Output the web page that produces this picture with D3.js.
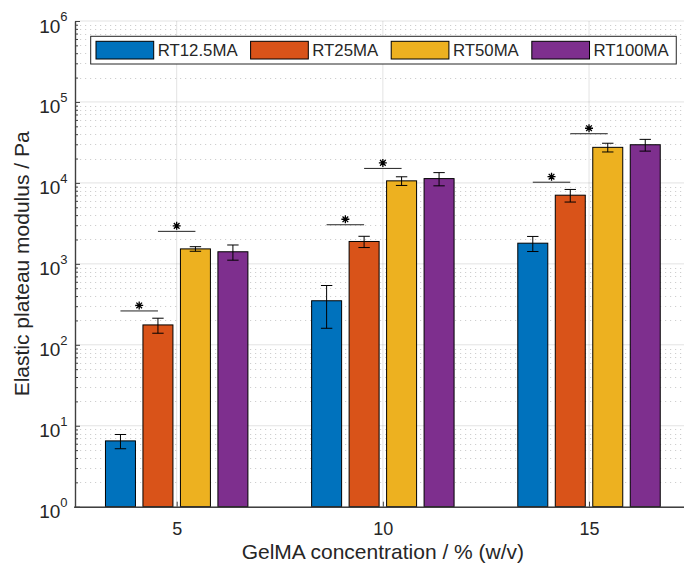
<!DOCTYPE html>
<html lang="en">
<head>
<meta charset="utf-8">
<style type="text/css">
body { margin: 0; background: #fff; }
svg text { font-family: "Liberation Sans", Arial, sans-serif; fill: #262626; }
.axis path, .axis line { stroke: #404040; }
</style>
</head>
<body>
<svg width="684" height="565"></svg>
<script src="https://d3js.org/d3.v7.min.js"></script>
<script type="text/javascript">
// data
var concentrations = [5, 10, 15];
var series = ["RT12.5MA", "RT25MA", "RT50MA", "RT100MA"];
var colors = ["#0072BD", "#D95319", "#EDB120", "#7E2F8E"];

var rt12_5 = [6.5, 350, 1800];
var rt25 = [176, 1890, 7050];
var rt50 = [1530, 10600, 27500];
var rt100 = [1410, 11300, 29600];

var rt12_5Err = [1.3, 190, 380];
var rt25Err = [37, 300, 1250];
var rt50Err = [100, 1300, 3400];
var rt100Err = [300, 2100, 4900];

// significance bars: first pair (12.5 vs 25), second pair (25 vs 50)
var sigLow = [262, 3040, 10200];
var sigHigh = [2520, 15100, 40500];

var yDecades = [1, 10, 100, 1e3, 1e4, 1e5, 1e6];

var means = [rt12_5, rt25, rt50, rt100];
var errs = [rt12_5Err, rt25Err, rt50Err, rt100Err];

var svg = d3.select("svg");

var x = d3.scaleLinear().domain([2.5, 17.5]).range([73.6, 692.1]);
var y = d3.scaleLog().domain([1, 1e6]).range([506.7, 21]);

var groupW = (x(10) - x(5)) * 4 / 5.5;
var inner = d3.scaleBand().domain(d3.range(series.length))
    .range([-groupW / 2, groupW / 2]).paddingInner(0.2).paddingOuter(0.1);

var yMinor = [];
for (var e = 0; e < 6; e++) {
    for (var k = 2; k <= 9; k++) yMinor.push(k * Math.pow(10, e));
}

var plotL = 75, plotR = x.range()[1];
var plotT = y.range()[1], plotB = y.range()[0];

// grid
var grid = svg.append("g");
grid.selectAll(".minor").data(yMinor).enter().append("line")
    .attr("x1", plotL).attr("x2", plotR)
    .attr("y1", function (d) { return Math.round(y(d)) + 0.5; })
    .attr("y2", function (d) { return Math.round(y(d)) + 0.5; })
    .attr("stroke", "#262626").attr("stroke-opacity", 0.22)
    .attr("stroke-dasharray", "1.2 3.8");
grid.selectAll(".major").data(yDecades).enter().append("line")
    .attr("x1", plotL).attr("x2", plotR)
    .attr("y1", function (d) { return y(d); })
    .attr("y2", function (d) { return y(d); })
    .attr("stroke", "#262626").attr("stroke-opacity", 0.13);
grid.selectAll(".vmajor").data(concentrations).enter().append("line")
    .attr("x1", function (d) { return x(d); }).attr("x2", function (d) { return x(d); })
    .attr("y1", plotT).attr("y2", plotB)
    .attr("stroke", "#262626").attr("stroke-opacity", 0.13);

// bars
var rows = [];
concentrations.forEach(function (c, gi) {
    series.forEach(function (s, si) {
        rows.push({c: c, g: gi, s: si, v: means[si][gi], e: errs[si][gi]});
    });
});

var cx = function (d) { return x(d.c) + inner(d.s) + inner.bandwidth() / 2; };

svg.append("g").selectAll("rect").data(rows).enter().append("rect")
    .attr("x", function (d) { return x(d.c) + inner(d.s); })
    .attr("width", inner.bandwidth())
    .attr("y", function (d) { return y(d.v); })
    .attr("height", function (d) { return plotB - y(d.v); })
    .attr("fill", function (d) { return colors[d.s]; })
    .attr("stroke", "#000").attr("stroke-width", 1);

// error bars
var eb = svg.append("g").attr("stroke", "#000").attr("stroke-width", 1);
rows.forEach(function (d) {
    var xc = cx(d), y1 = y(d.v + d.e), y0 = y(d.v - d.e);
    eb.append("line").attr("x1", xc).attr("x2", xc).attr("y1", y1).attr("y2", y0);
    eb.append("line").attr("x1", xc - 5.7).attr("x2", xc + 5.7).attr("y1", y1).attr("y2", y1);
    eb.append("line").attr("x1", xc - 5.7).attr("x2", xc + 5.7).attr("y1", y0).attr("y2", y0);
});

// significance marks
function star(g, px, py) {
    var r = 4, q = r * 0.707;
    g.append("path")
        .attr("d", "M" + (px - r) + "," + py + "H" + (px + r) +
            "M" + px + "," + (py - r) + "V" + (py + r) +
            "M" + (px - q) + "," + (py - q) + "L" + (px + q) + "," + (py + q) +
            "M" + (px - q) + "," + (py + q) + "L" + (px + q) + "," + (py - q))
        .attr("stroke", "#000").attr("stroke-width", 1.3).attr("fill", "none");
}
var sig = svg.append("g");
concentrations.forEach(function (c, gi) {
    [[0, 1, sigLow[gi]], [1, 2, sigHigh[gi]]].forEach(function (p) {
        var xa = cx({c: c, s: p[0]}), xb = cx({c: c, s: p[1]}), yy = y(p[2]);
        sig.append("line").attr("x1", xa).attr("x2", xb).attr("y1", yy).attr("y2", yy)
            .attr("stroke", "#222").attr("stroke-width", 1);
        star(sig, (xa + xb) / 2, yy - 5.5);
    });
});

// axes
var yAxis = svg.append("g").attr("class", "axis").attr("transform", "translate(" + plotL + ",0)");
yAxis.append("g").call(d3.axisLeft(y).tickValues(yMinor).tickSizeInner(-3).tickSizeOuter(0).tickFormat(""))
    .call(function (g) { g.selectAll("text").remove(); });
var yMajor = yAxis.append("g")
    .call(d3.axisLeft(y).tickValues(yDecades).tickSizeInner(-5).tickSizeOuter(0).tickPadding(7.5));
yMajor.select(".domain").remove();
yAxis.selectAll(".domain").attr("stroke-width", 1.4);
yMajor.selectAll(".tick text").each(function (d) {
    var t = d3.select(this).text(null)
        .attr("font-size", 19).attr("dy", null).attr("font-family", null)
        .attr("fill", "#262626");
    t.append("tspan").attr("dy", "0.58em").text("10");
    t.append("tspan").attr("font-size", 13).attr("dy", "-0.9em").text(Math.round(Math.log10(d)));
});
yAxis.selectAll(".tick line").attr("stroke", "#404040");

var xAxis = svg.append("g").attr("class", "axis").attr("transform", "translate(0," + plotB + ")");
xAxis.call(d3.axisBottom(x).tickValues(concentrations).tickSizeInner(-5).tickSizeOuter(0).tickPadding(16));
xAxis.selectAll(".domain").attr("stroke-width", 1.6);
xAxis.selectAll(".tick text").attr("font-size", 18).attr("font-family", null).attr("fill", "#262626");

svg.append("text")
    .attr("x", x(10)).attr("y", 559)
    .attr("text-anchor", "middle").attr("font-size", 21)
    .text("GelMA concentration / % (w/v)");

svg.append("text")
    .attr("transform", "translate(29," + ((plotT + plotB) / 2) + ") rotate(-90)")
    .attr("text-anchor", "middle").attr("font-size", 21)
    .text("Elastic plateau modulus / Pa");

// legend
var legend = svg.append("g");
var box = legend.append("rect").attr("fill", "#fff").attr("stroke", "#262626").attr("stroke-width", 1);
var lx = 96, ly = 41.3, sw = 57.7, sh = 17.7;
series.forEach(function (s, i) {
    legend.append("rect").attr("x", lx).attr("y", ly).attr("width", sw).attr("height", sh)
        .attr("fill", colors[i]).attr("stroke", "#000").attr("stroke-width", 1);
    var t = legend.append("text").attr("x", lx + sw + 4).attr("y", ly + sh / 2)
        .attr("dy", "0.36em").attr("font-size", 16.8).attr("fill", "#000").text(s);
    lx += sw + 4 + t.node().getComputedTextLength() + 13;
});
box.attr("x", 90.7).attr("y", 36.3).attr("width", lx - 13 + 7.5 - 90.7).attr("height", 27.7);
</script>
</body>
</html>
